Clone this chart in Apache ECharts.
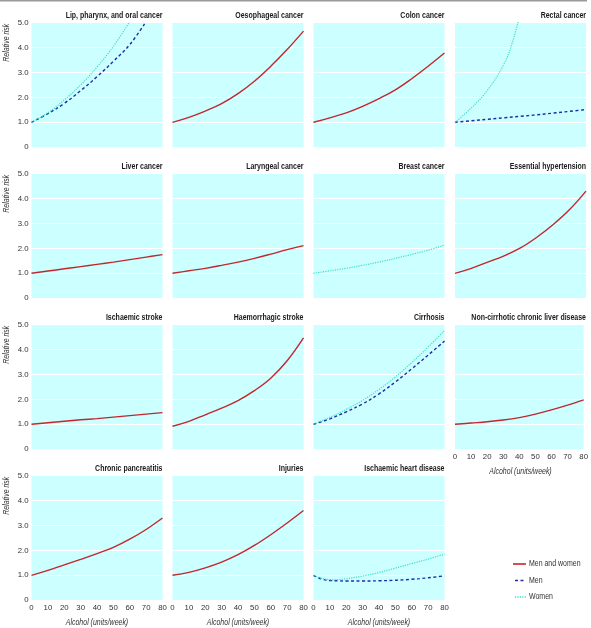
<!DOCTYPE html>
<html>
<head>
<meta charset="utf-8">
<script src="https://cdn.jsdelivr.net/npm/echarts@6/dist/echarts.min.js"></script>
<style>
html,body{margin:0;padding:0;background:#fff;}
#chart{width:591px;height:628px;}
</style>
</head>
<body>
<div id="chart"></div>
<script>
// ---- Data ----
const xs = [0, 10, 20, 30, 40, 50, 60, 70, 80];
const xTickLabels = ['0', '10', '20', '30', '40', '50', '60', '70', '80'];
const yTickLabels = ['0', '1.0', '2.0', '3.0', '4.0', '5.0'];
const legendNames = ['Men and women', 'Men', 'Women'];

const titles = [
  'Lip, pharynx, and oral cancer', 'Oesophageal cancer', 'Colon cancer', 'Rectal cancer',
  'Liver cancer', 'Laryngeal cancer', 'Breast cancer', 'Essential hypertension',
  'Ischaemic stroke', 'Haemorrhagic stroke', 'Cirrhosis', 'Non-cirrhotic chronic liver disease',
  'Chronic pancreatitis', 'Injuries', 'Ischaemic heart disease'
];

// Lip, pharynx, and oral cancer
const lipMenX = [0, 10, 20, 30, 40, 50, 60, 70];
const lipMen = [1.0, 1.35, 1.76, 2.27, 2.83, 3.45, 4.12, 5.05];
const lipWomenX = [0, 10, 20, 30, 40, 50, 60];
const lipWomen = [1.0, 1.38, 1.9, 2.5, 3.22, 4.05, 5.05];
// Oesophageal cancer
const oesophagealAll = [1.0, 1.2, 1.45, 1.75, 2.15, 2.65, 3.25, 3.92, 4.66];
// Colon cancer
const colonAll = [1.0, 1.18, 1.38, 1.64, 1.95, 2.3, 2.75, 3.25, 3.78];
// Rectal cancer
const rectalMen = [1.0, 1.06, 1.12, 1.18, 1.24, 1.3, 1.37, 1.44, 1.51];
const rectalWomenX = [0, 10, 20, 30, 35, 40];
const rectalWomen = [1.0, 1.58, 2.3, 3.35, 4.2, 5.4];
// Liver cancer
const liverAll = [1.0, 1.09, 1.18, 1.27, 1.36, 1.45, 1.55, 1.65, 1.75];
// Laryngeal cancer
const laryngealAll = [1.0, 1.1, 1.2, 1.32, 1.45, 1.6, 1.77, 1.95, 2.11];
// Breast cancer
const breastWomen = [1.0, 1.1, 1.2, 1.32, 1.45, 1.6, 1.76, 1.93, 2.13];
// Essential hypertension
const hypertensionAll = [1.0, 1.2, 1.45, 1.7, 2.02, 2.45, 2.96, 3.56, 4.3];
// Ischaemic stroke
const ischStrokeAll = [1.0, 1.06, 1.12, 1.18, 1.23, 1.29, 1.35, 1.41, 1.47];
// Haemorrhagic stroke
const haemStrokeAll = [0.92, 1.12, 1.38, 1.65, 1.95, 2.35, 2.85, 3.55, 4.47];
// Cirrhosis
const cirrhosisMen = [1.0, 1.22, 1.5, 1.82, 2.22, 2.7, 3.23, 3.78, 4.34];
const cirrhosisWomen = [1.0, 1.28, 1.6, 1.96, 2.4, 2.9, 3.48, 4.1, 4.77];
// Non-cirrhotic chronic liver disease
const nonCirrhoticAll = [1.0, 1.05, 1.1, 1.17, 1.27, 1.41, 1.58, 1.77, 1.98];
// Chronic pancreatitis
const pancreatitisAll = [1.0, 1.2, 1.42, 1.64, 1.87, 2.12, 2.45, 2.84, 3.3];
// Injuries
const injuriesAll = [1.0, 1.12, 1.3, 1.53, 1.83, 2.2, 2.63, 3.1, 3.6];
// Ischaemic heart disease
const ihdX = [0, 5, 10, 15, 20, 30, 40, 50, 60, 70, 80];
const ihdMen = [1.0, 0.85, 0.79, 0.78, 0.77, 0.77, 0.78, 0.8, 0.84, 0.9, 0.98];
const ihdWomen = [1.0, 0.88, 0.83, 0.83, 0.86, 0.97, 1.11, 1.29, 1.47, 1.65, 1.85];

// ---- Styling ----
const COLORS = { all: '#c1272d', men: '#1f2fa8', women: '#3fdcc8' };
const FONT = 'Arial, "Liberation Sans", sans-serif';
const NARROW = 0.82;
const pairs = (x, y) => x.map((v, i) => [v, y[i]]);

const panels = [
  [{ k: 'men', x: lipMenX, y: lipMen }, { k: 'women', x: lipWomenX, y: lipWomen }],
  [{ k: 'all', x: xs, y: oesophagealAll }],
  [{ k: 'all', x: xs, y: colonAll }],
  [{ k: 'men', x: xs, y: rectalMen }, { k: 'women', x: rectalWomenX, y: rectalWomen }],
  [{ k: 'all', x: xs, y: liverAll }],
  [{ k: 'all', x: xs, y: laryngealAll }],
  [{ k: 'women', x: xs, y: breastWomen }],
  [{ k: 'all', x: xs, y: hypertensionAll }],
  [{ k: 'all', x: xs, y: ischStrokeAll }],
  [{ k: 'all', x: xs, y: haemStrokeAll }],
  [{ k: 'men', x: xs, y: cirrhosisMen }, { k: 'women', x: xs, y: cirrhosisWomen }],
  [{ k: 'all', x: xs, y: nonCirrhoticAll }],
  [{ k: 'all', x: xs, y: pancreatitisAll }],
  [{ k: 'all', x: xs, y: injuriesAll }],
  [{ k: 'men', x: ihdX, y: ihdMen }, { k: 'women', x: ihdX, y: ihdWomen }]
];
const keys = ['all', 'men', 'women'];
const lineType = { all: 'solid', men: [3, 2.5], women: [1.2, 1.2] };
const lineWidth = { all: 1.4, men: 1.4, women: 1.2 };

const colLeft = [31.5, 172.5, 313.5, 455];
const panelW = 131;
const rowTop = [22.7, 173.7, 324.7, 475.7];
const panelH = 124.5;
const xLabelPanels = [11, 12, 13, 14];

const grid = [], xAxis = [], yAxis = [], series = [], graphic = [];

graphic.push({ type: 'rect', shape: { x: 0, y: 0, width: 587, height: 1.6 }, style: { fill: '#9a9a9a' }, silent: true });

panels.forEach((p, i) => {
  const r = Math.floor(i / 4), c = i % 4;
  const left = colLeft[c], top = rowTop[r];
  grid.push({ left: left, top: top, width: panelW, height: panelH, show: true, backgroundColor: '#ccffff', borderWidth: 0 });
  const showX = xLabelPanels.includes(i);
  xAxis.push({
    type: 'value', gridIndex: i, min: 0, max: 80, interval: 10,
    axisLine: { show: false }, axisTick: { show: false }, splitLine: { show: false },
    axisLabel: { show: showX, fontFamily: FONT, fontSize: 7.8, color: '#333', margin: 4,
      formatter: (v) => xTickLabels[xs.indexOf(v)] }
  });
  yAxis.push({
    type: 'value', gridIndex: i, min: 0, max: 5, interval: 1,
    axisLine: { show: false }, axisTick: { show: false },
    splitLine: { show: true, lineStyle: { color: '#ffffff', width: 1 } },
    axisLabel: { show: c === 0, fontFamily: FONT, fontSize: 7.8, color: '#333', margin: 3,
      formatter: (v) => yTickLabels[v] }
  });
  p.forEach(s => {
    series.push({
      type: 'line', name: legendNames[keys.indexOf(s.k)], xAxisIndex: i, yAxisIndex: i,
      data: pairs(s.x, s.y), smooth: 0.4, showSymbol: false, symbol: 'none',
      clip: true, silent: true,
      lineStyle: { color: COLORS[s.k], width: lineWidth[s.k], type: lineType[s.k] },
      itemStyle: { color: COLORS[s.k] }
    });
  });
  graphic.push({
    type: 'text', x: left + panelW, y: top - 7, scaleX: NARROW, silent: true,
    style: { text: titles[i], align: 'right', verticalAlign: 'middle', fontFamily: FONT,
      fontWeight: 'bold', fontSize: 8.5, fill: '#1a1a1a' }
  });
  if (showX) {
    graphic.push({
      type: 'text', x: left + panelW / 2, y: top + panelH + 22, scaleX: NARROW, silent: true,
      style: { text: 'Alcohol (units/week)', align: 'center', verticalAlign: 'middle', fontFamily: FONT,
        fontStyle: 'italic', fontSize: 8.5, fill: '#333' }
    });
  }
  if (c === 0) {
    graphic.push({
      type: 'text', x: 6.5, y: top + 20, rotation: Math.PI / 2, scaleX: NARROW, silent: true,
      style: { text: 'Relative risk', align: 'center', verticalAlign: 'middle', fontFamily: FONT,
        fontStyle: 'italic', fontSize: 8.5, fill: '#333' }
    });
  }
});

// Legend
keys.forEach((k, j) => {
  const y = 564 + j * 16.5;
  graphic.push({
    type: 'line', silent: true,
    shape: { x1: k === 'all' ? 513 : 515, y1: y, x2: 526, y2: y },
    style: { stroke: COLORS[k], lineWidth: k === 'all' ? 1.6 : 1.3,
      lineDash: k === 'all' ? null : lineType[k] }
  });
  graphic.push({
    type: 'text', x: 529, y: y, scaleX: NARROW, silent: true,
    style: { text: legendNames[j], align: 'left', verticalAlign: 'middle', fontFamily: FONT,
      fontSize: 8.5, fill: '#333' }
  });
});

const chart = echarts.init(document.getElementById('chart'), null, { renderer: 'canvas' });
chart.setOption({
  animation: false,
  backgroundColor: '#ffffff',
  grid, xAxis, yAxis, series, graphic
});
</script>
</body>
</html>
